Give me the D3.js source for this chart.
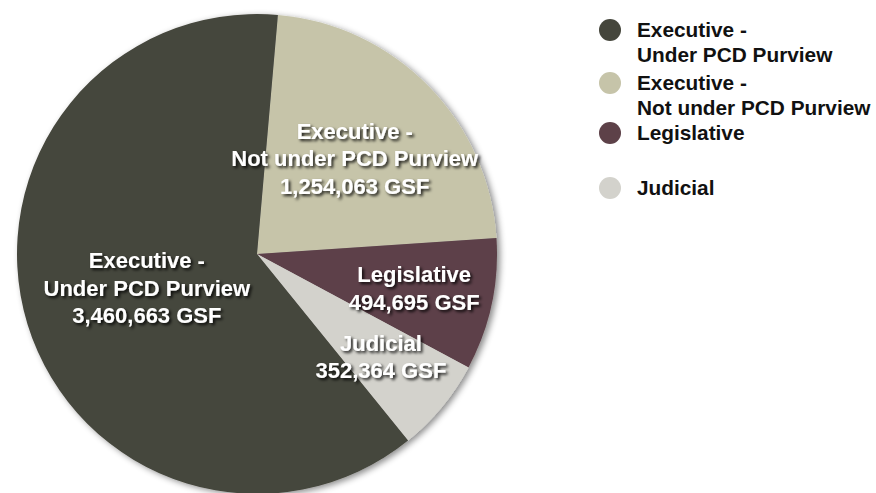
<!DOCTYPE html>
<html lang="en">
<head>
    <meta charset="UTF-8">
    <title>GSF by Branch</title>
    <script src="https://d3js.org/d3.v7.min.js"></script>
    <style>
        body { margin: 0; background: #ffffff; }
        svg { font-family: "Liberation Sans", Arial, sans-serif; font-weight: bold; }
        .slice-label { fill: #ffffff; font-size: 22px; }
        .legend-text { fill: #111111; font-size: 20.8px; }
    </style>
</head>
<body>
    <div id="chart"></div>
    <script>
    // slice order as drawn clockwise from the top
    const sliceNames = ["Executive - Not under PCD Purview", "Legislative", "Judicial", "Executive - Under PCD Purview"];
    const sliceLines = [["Executive -", "Not under PCD Purview"], ["Legislative"], ["Judicial"], ["Executive -", "Under PCD Purview"]];
    const sliceValues = [1254063, 494695, 352364, 3460663];
    const sliceColors = ["#c6c4a9", "#5d4148", "#d3d2cc", "#45463c"];

    // legend order
    const legendOrder = [3, 0, 1, 2];

    const width = 876;
    const height = 493;
    const cx = 257, cy = 254, radius = 240;
    const startOffset = 5 * Math.PI / 180;
    // how far out each label sits, as a share of the radius
    const labelRadius = [0.57, 0.67, 0.67, 0.48];

    const svg = d3.select("#chart")
        .append("svg")
        .attr("width", width)
        .attr("height", height);

    const defs = svg.append("defs");
    defs.append("filter")
        .attr("id", "pieShadow")
        .attr("x", "-10%").attr("y", "-10%").attr("width", "120%").attr("height", "120%")
        .append("feDropShadow")
        .attr("dx", 3).attr("dy", 2)
        .attr("stdDeviation", 3)
        .attr("flood-color", "#000").attr("flood-opacity", 0.45);
    defs.append("filter")
        .attr("id", "textShadow")
        .attr("x", "-10%").attr("y", "-30%").attr("width", "120%").attr("height", "160%")
        .append("feDropShadow")
        .attr("dx", 2).attr("dy", 2)
        .attr("stdDeviation", 1.8)
        .attr("flood-color", "#000").attr("flood-opacity", 0.85);

    const pie = d3.pie()
        .sort(null)
        .value(d => d)
        .startAngle(startOffset)
        .endAngle(startOffset + 2 * Math.PI);

    const arcs = pie(sliceValues);
    const arc = d3.arc().innerRadius(0).outerRadius(radius);

    const g = svg.append("g").attr("transform", `translate(${cx},${cy})`);

    g.append("g")
        .attr("filter", "url(#pieShadow)")
        .selectAll("path")
        .data(arcs)
        .enter()
        .append("path")
        .attr("d", arc)
        .attr("fill", (d, i) => sliceColors[i]);

    const fmt = d3.format(",");
    const lineH = 27.5;

    const labels = g.selectAll("text.slice-label")
        .data(arcs)
        .enter()
        .append("text")
        .attr("class", "slice-label")
        .attr("text-anchor", "middle")
        .attr("filter", "url(#textShadow)")
        .attr("transform", (d, i) => {
            const r = radius * labelRadius[i];
            const a = (d.startAngle + d.endAngle) / 2;
            return `translate(${r * Math.sin(a)},${-r * Math.cos(a)})`;
        });

    labels.each(function(d, i) {
        const lines = sliceLines[i].concat([fmt(sliceValues[i]) + " GSF"]);
        const t = d3.select(this);
        const y0 = -(lines.length - 1) * lineH / 2 + 8;
        lines.forEach((s, k) => {
            t.append("tspan").attr("x", 0).attr("y", y0 + k * lineH).text(s);
        });
    });

    // legend
    const legendY = [30, 83, 133, 188];
    const legend = svg.append("g").attr("transform", "translate(610,0)");
    legendOrder.forEach((idx, k) => {
        const row = legend.append("g").attr("transform", `translate(0,${legendY[k]})`);
        row.append("circle").attr("r", 11).attr("fill", sliceColors[idx]);
        const t = row.append("text").attr("class", "legend-text");
        sliceLines[idx].forEach((s, j) => {
            t.append("tspan").attr("x", 27).attr("y", 7 + j * 25).text(s);
        });
    });
    </script>
</body>
</html>
